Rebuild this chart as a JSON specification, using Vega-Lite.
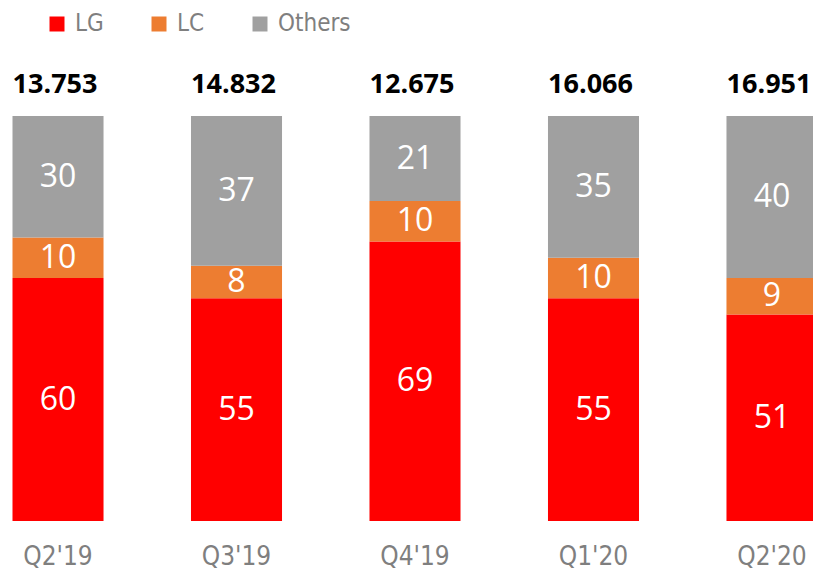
{
  "$schema": "https://vega.github.io/schema/vega-lite/v6.json",
  "width": 813,
  "height": 405,
  "autosize": {"type": "none"},
  "padding": {"left": 0, "top": 116, "right": 0, "bottom": 50},
  "background": "white",
  "config": {"view": {"stroke": null}, "font": "DejaVu Sans Condensed"},
  "data": {
    "values": [
      {"q": "Q2'19", "s": "LG", "o": 1, "v": 60, "t": "13.753"},
      {"q": "Q2'19", "s": "LC", "o": 2, "v": 10, "t": "13.753"},
      {"q": "Q2'19", "s": "Others", "o": 3, "v": 30, "t": "13.753"},
      {"q": "Q3'19", "s": "LG", "o": 1, "v": 55, "t": "14.832"},
      {"q": "Q3'19", "s": "LC", "o": 2, "v": 8, "t": "14.832"},
      {"q": "Q3'19", "s": "Others", "o": 3, "v": 37, "t": "14.832"},
      {"q": "Q4'19", "s": "LG", "o": 1, "v": 69, "t": "12.675"},
      {"q": "Q4'19", "s": "LC", "o": 2, "v": 10, "t": "12.675"},
      {"q": "Q4'19", "s": "Others", "o": 3, "v": 21, "t": "12.675"},
      {"q": "Q1'20", "s": "LG", "o": 1, "v": 55, "t": "16.066"},
      {"q": "Q1'20", "s": "LC", "o": 2, "v": 10, "t": "16.066"},
      {"q": "Q1'20", "s": "Others", "o": 3, "v": 35, "t": "16.066"},
      {"q": "Q2'20", "s": "LG", "o": 1, "v": 51, "t": "16.951"},
      {"q": "Q2'20", "s": "LC", "o": 2, "v": 9, "t": "16.951"},
      {"q": "Q2'20", "s": "Others", "o": 3, "v": 40, "t": "16.951"}
    ]
  },
  "encoding": {
    "x": {
      "field": "q",
      "type": "nominal",
      "sort": null,
      "scale": {"range": [0, 830], "paddingInner": 0.49, "paddingOuter": 0.07},
      "axis": {
        "title": null,
        "domain": false,
        "ticks": false,
        "labelAngle": 0,
        "labelFont": "DejaVu Sans Condensed",
        "labelFontSize": 26,
        "labelColor": "#7f7f7f",
        "labelPadding": 22
      }
    }
  },
  "layer": [
    {
      "mark": {"type": "bar"},
      "encoding": {
        "y": {"field": "v", "type": "quantitative", "stack": "zero", "scale": {"domain": [0, 100]}, "axis": null},
        "order": {"field": "o", "type": "quantitative", "sort": "ascending"},
        "color": {
          "field": "s",
          "type": "nominal",
          "sort": ["LG", "LC", "Others"],
          "scale": {"domain": ["LG", "LC", "Others"], "range": ["#ff0000", "#ed7d31", "#a0a0a0"]},
          "legend": {
            "title": null,
            "orient": "none",
            "direction": "horizontal",
            "legendX": 45,
            "legendY": -104,
            "symbolType": "square",
            "symbolSize": 225,
            "symbolStrokeWidth": 0,
            "symbolOpacity": 1,
            "labelFont": "DejaVu Sans Condensed",
            "labelFontSize": 24,
            "labelColor": "#7f7f7f",
            "labelOffset": 6,
            "columnPadding": 43
          }
        }
      }
    },
    {
      "mark": {"type": "text", "fontSize": 32, "font": "Open Sans", "baseline": "middle", "color": "white"},
      "encoding": {
        "y": {"field": "v", "type": "quantitative", "stack": "zero", "bandPosition": 0.5},
        "order": {"field": "o", "type": "quantitative", "sort": "ascending"},
        "detail": {"field": "s"},
        "text": {"field": "v", "type": "quantitative"}
      }
    },
    {
      "mark": {"type": "text", "fontSize": 27, "fontWeight": "bold", "font": "Open Sans", "color": "black", "dy": -31, "dx": -3, "baseline": "middle"},
      "encoding": {
        "y": {"aggregate": "sum", "field": "v", "type": "quantitative"},
        "text": {"field": "t"}
      }
    }
  ]
}
